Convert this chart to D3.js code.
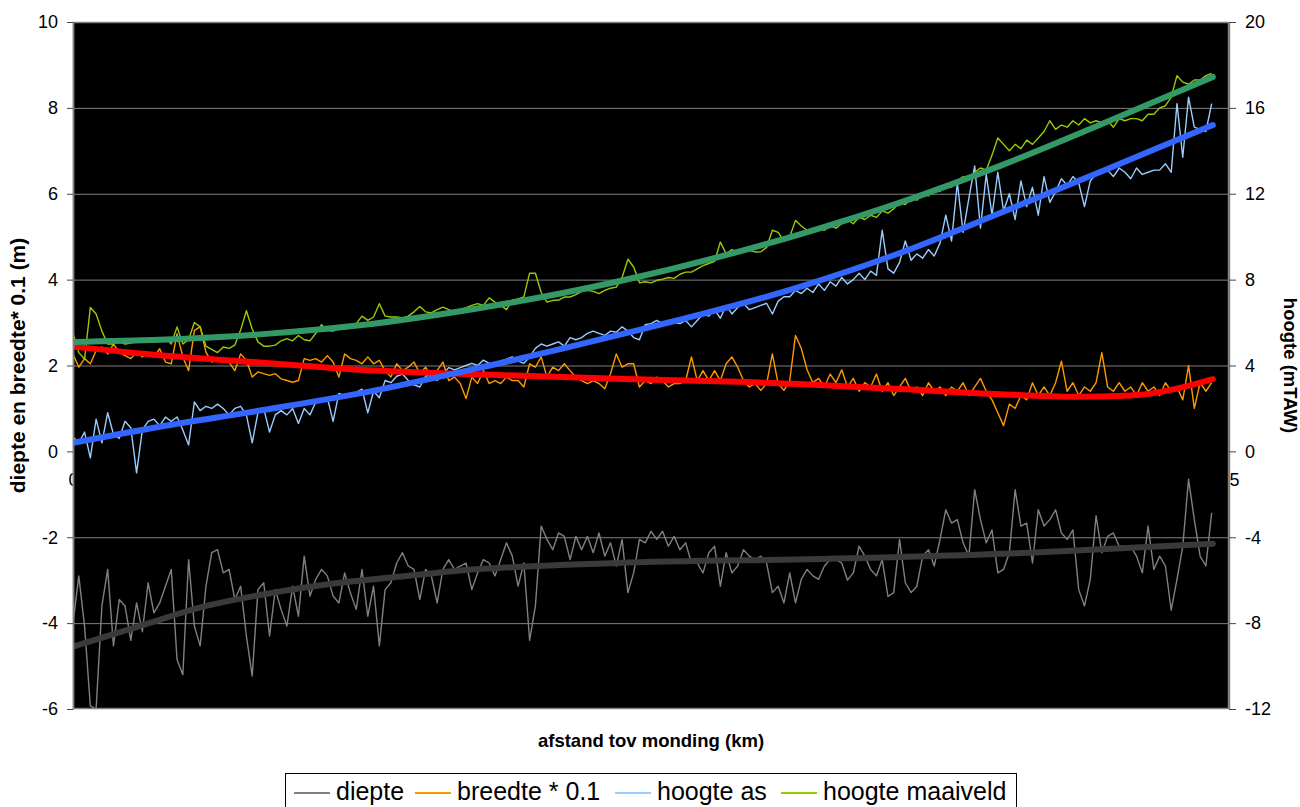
<!DOCTYPE html>
<html>
<head>
<meta charset="utf-8">
<script src="https://cdn.jsdelivr.net/npm/d3@7"></script>
<style>
  body { margin: 0; background: #fff; }
  svg { display: block; font-family: Arial, "Liberation Sans", sans-serif; }
</style>
</head>
<body>
<svg id="chart" width="1300" height="807"></svg>
<script>
// profiel langs de waterloop, één meetpunt per 0.125 km
const stepKm = 0.125;

const diepte = [
  -4.0, -2.9, -4.07, -5.93, -6.0, -3.6, -2.75, -4.53, -3.45, -3.6,
  -4.4, -3.53, -4.2, -3.06, -3.76, -3.53, -3.14, -2.75, -4.85, -5.2,
  -2.52, -4.07, -4.53, -3.14, -2.36, -2.29, -2.83, -2.75, -3.45, -3.14,
  -4.3, -5.23, -3.22, -3.06, -4.3, -3.22, -3.68, -4.07, -3.14, -3.84,
  -2.44, -3.37, -2.98, -2.75, -2.9, -3.37, -3.53, -2.83, -3.3, -3.68,
  -2.75, -3.84, -3.14, -4.53, -3.22, -3.06, -2.6, -2.36, -2.67, -2.75,
  -3.45, -2.75, -2.9, -3.53, -2.75, -2.52, -2.75, -2.67, -2.6, -3.22,
  -2.83, -2.52, -2.6, -2.9, -2.52, -2.13, -2.44, -3.14, -2.6, -4.4,
  -3.6, -1.74, -2.05, -2.29, -1.9, -1.98, -2.52, -1.98, -2.29, -1.98,
  -2.36, -1.9, -2.44, -2.13, -2.67, -2.05, -3.29, -2.83, -2.05, -2.13,
  -1.86, -2.05, -1.86, -2.21, -1.98, -2.29, -2.13, -2.6, -2.6, -2.83,
  -2.36, -2.21, -3.14, -2.36, -2.83, -2.67, -2.29, -2.44, -2.52, -2.44,
  -2.6, -3.29, -3.14, -3.53, -2.83, -3.53, -2.98, -2.75, -2.9, -2.98,
  -2.67, -2.52, -2.52, -2.6, -3.0, -2.83, -2.21, -2.44, -2.75, -2.9,
  -2.52, -3.38, -3.29, -2.05, -3.06, -3.29, -3.14, -2.44, -2.29, -2.67,
  -2.05, -1.36, -1.67, -1.59, -2.13, -2.44, -0.89, -1.59, -2.13, -1.83,
  -2.83, -2.75, -2.36, -0.89, -1.74, -1.67, -2.6, -1.36, -1.74, -1.59,
  -1.36, -1.9, -2.05, -1.83, -3.22, -3.6, -2.98, -1.5, -2.36, -1.98,
  -1.9, -2.21, -2.21, -2.21, -2.44, -2.83, -1.74, -2.75, -2.44, -2.67,
  -3.7, -2.98, -2.21, -0.65, -1.59, -2.44, -2.67, -1.43
];

const breedte = [
  2.27, 1.96, 2.16, 2.04, 2.35, 2.43, 2.27, 2.5, 2.31, 2.23,
  2.16, 2.31, 2.2, 2.31, 2.2, 2.39, 2.08, 2.04, 2.74, 2.2,
  1.88, 2.82, 2.9, 2.31, 2.08, 2.16, 2.08, 2.08, 1.88, 2.27,
  2.12, 1.73, 1.85, 1.81, 1.77, 1.81, 1.69, 1.65, 1.61, 1.65,
  2.16, 2.12, 2.16, 2.08, 2.23, 2.08, 1.73, 2.27, 2.16, 2.12,
  2.04, 2.2, 2.04, 2.12, 1.88, 1.73, 2.04, 1.88, 1.96, 2.08,
  1.81, 1.96, 1.73, 1.88, 2.08, 1.65, 1.73, 1.58, 1.23, 1.73,
  1.58, 1.88, 1.58, 1.65, 1.58, 1.73, 1.65, 1.65, 1.5, 2.04,
  1.96, 2.2, 1.73, 1.96, 1.88, 2.04, 1.88, 1.73, 1.65, 1.58,
  1.65, 1.58, 1.46, 1.81, 2.27, 1.96, 2.04, 2.04, 1.5, 1.65,
  1.58, 1.73, 1.65, 1.5, 1.58, 1.58, 1.65, 2.2, 1.65, 1.88,
  1.65, 1.88, 1.65, 2.04, 2.2, 1.96, 1.65, 1.5, 1.58, 1.42,
  1.58, 2.27, 1.58, 1.42, 1.65, 2.7, 2.4, 1.9, 1.6, 1.7,
  1.5, 1.8, 1.6, 1.9, 1.5, 1.7, 1.4, 1.6, 1.5, 1.8,
  1.4, 1.6, 1.3, 1.5, 1.7, 1.4, 1.5, 1.3, 1.6, 1.4,
  1.5, 1.3, 1.5, 1.4, 1.6, 1.3, 1.5, 1.7, 1.4, 1.2,
  0.9, 0.6, 1.1, 1.0, 1.3, 1.2, 1.6, 1.3, 1.5, 1.3,
  1.6, 2.1, 1.4, 1.6, 1.3, 1.5, 1.4, 1.6, 2.3, 1.5,
  1.4, 1.6, 1.4, 1.5, 1.3, 1.6, 1.4, 1.5, 1.3, 1.6,
  1.4, 1.5, 1.2, 2.0, 1.0, 1.6, 1.4, 1.6
];

const hoogteAs = [
  0.67, 0.4, 0.9, -0.3, 1.5, 0.4, 1.8, 0.8, 0.6, 1.4,
  1.1, -1.0, 1.0, 1.4, 1.5, 1.2, 1.6, 1.4, 1.6, 1.0,
  0.3, 2.3, 1.9, 2.1, 2.0, 2.2, 2.0, 1.7, 2.0, 2.1,
  1.7, 0.4, 1.8, 2.0, 0.9, 1.7, 1.9, 1.7, 2.0, 1.3,
  2.0, 1.7, 2.3, 2.4, 2.5, 1.4, 2.7, 2.6, 2.7, 2.75,
  2.9, 1.8, 2.8, 2.5, 3.3, 3.2, 3.5, 3.6, 3.3, 3.1,
  3.0, 3.5, 3.6, 3.3, 3.6, 3.9, 3.8, 3.9, 4.0, 4.1,
  4.0, 4.25, 4.1, 4.1, 4.2, 4.3, 4.4, 4.2, 4.1, 4.4,
  4.8, 5.0, 4.9, 5.0, 5.1, 4.9, 5.3, 5.2, 5.3, 5.5,
  5.6, 5.5, 5.4, 5.6, 5.55, 5.8, 5.6, 5.3, 5.2, 5.9,
  5.95, 6.1, 5.95, 6.1, 6.0, 5.95, 6.1, 5.8, 6.1, 6.4,
  6.3, 6.6, 6.2, 6.8, 6.4, 6.7, 6.9, 6.6, 6.7, 6.8,
  6.9, 6.4, 7.0, 7.2, 7.2, 7.5, 7.35, 7.6, 7.4, 7.8,
  7.5, 7.9, 7.7, 8.1, 7.8, 8.0, 8.3, 8.0, 8.4, 8.2,
  10.3, 8.5, 8.3, 8.8, 9.8, 8.9, 9.2, 9.0, 9.4, 9.1,
  9.7, 11.0, 9.8, 12.5, 10.2, 11.8, 13.3, 10.4, 12.9, 11.0,
  13.0, 11.2, 12.0, 10.8, 12.6, 11.4, 12.3, 11.0, 12.8, 11.6,
  12.1, 12.7, 12.4, 12.8, 12.5, 11.4, 12.6, 12.9, 13.0, 13.1,
  12.8, 13.2, 13.0, 12.7, 13.2, 12.9, 13.0, 13.1, 13.1, 13.4,
  13.0, 16.2, 13.7, 16.5, 15.1, 15.0, 14.9, 16.2
];

const hoogteMaaiveld = [
  5.5, 4.6, 4.3, 6.7, 6.4, 5.6, 5.0, 5.0, 5.1, 5.0,
  5.05, 5.1, 5.2, 5.25, 5.2, 5.3, 5.3, 5.0, 5.8, 5.0,
  5.2, 6.0, 5.8, 4.9, 4.75, 4.6, 4.86, 4.8, 4.95, 5.65,
  6.55, 5.7, 5.1, 4.9, 4.9, 4.95, 5.15, 5.25, 5.15, 5.4,
  5.2, 5.15, 5.5, 5.9, 5.64, 5.6, 5.72, 5.7, 5.8, 5.95,
  6.3, 6.1, 6.26, 6.88, 6.3, 6.26, 6.26, 6.22, 6.3, 6.5,
  6.75, 6.5, 6.45, 6.6, 6.72, 6.6, 6.5, 6.6, 6.7, 6.8,
  6.88, 6.8, 7.15, 6.95, 6.8, 6.6, 7.05, 7.1, 7.2, 8.3,
  8.3, 7.4, 6.95, 7.03, 7.05, 7.19, 7.19, 7.3, 7.45, 7.5,
  7.45, 7.35, 7.5, 7.6, 7.65, 8.1, 8.95, 8.59, 7.85, 7.9,
  7.85, 7.97, 8.02, 8.1, 8.06, 8.25, 8.35, 8.35, 8.5, 8.65,
  8.75, 8.85, 9.75, 9.2, 9.4, 9.29, 9.29, 9.36, 9.29, 9.3,
  9.5, 10.3, 10.2, 9.8, 10.0, 10.76, 10.5, 10.3, 10.2, 10.4,
  10.3, 10.5, 10.4, 10.6, 10.8, 10.6, 10.9, 10.8, 11.0, 10.9,
  11.2, 11.1, 11.3, 11.6, 11.5, 11.8, 11.7, 12.0, 11.9, 12.2,
  12.1, 12.4, 12.3, 12.6, 12.8, 12.7, 13.0, 13.2, 13.1, 13.8,
  14.6, 14.3, 14.0, 14.3, 14.1, 14.5, 14.3, 14.6, 14.9, 15.4,
  15.0, 15.2, 15.1, 15.4, 15.2, 15.5, 15.3, 15.4, 15.3, 15.4,
  15.1, 15.5, 15.4, 15.5, 15.5, 15.4, 15.7, 15.7, 16.0, 16.1,
  16.5, 17.5, 17.2, 17.1, 17.3, 17.3, 17.5, 17.6
];

const trendDiepteKm = [0, 1.44, 2.88, 4.33, 5.77, 7.21, 8.22, 11.75, 16.37, 20.7, 24.65];
const trendDiepte = [-4.55, -4.07, -3.6, -3.29, -3.06, -2.9, -2.79, -2.6, -2.5, -2.36, -2.15];
const trendBreedteKm = [0, 1.88, 4.04, 6.2, 8.87, 11.76, 15.7, 17.9, 20.05, 21.67, 22.86, 23.83, 24.65];
const trendBreedte = [2.44, 2.24, 2.07, 1.9, 1.79, 1.69, 1.57, 1.45, 1.33, 1.27, 1.3, 1.45, 1.68];
const trendHoogteKm = [0, 1.88, 4.04, 6.2, 8.87, 11.76, 15.7, 17.9, 20.05, 22.2, 24.65];
const trendAs = [0.4, 1.15, 1.9, 2.7, 3.93, 5.4, 7.65, 9.25, 11.1, 13.0, 15.2];
const trendMaaiveld = [5.1, 5.2, 5.45, 5.87, 6.7, 7.9, 10.1, 11.6, 13.3, 15.2, 17.44];

const leftTicks = [-6, -4, -2, 0, 2, 4, 6, 8, 10];
const rightTicks = [-12, -8, -4, 0, 4, 8, 12, 16, 20];
const xTicks = [0, 5, 10, 15, 20, 25];
const legendItems = [
  { label: "diepte", color: "#808080" },
  { label: "breedte * 0.1", color: "#ff9900" },
  { label: "hoogte as", color: "#99ccff" },
  { label: "hoogte maaiveld", color: "#99cc00" }
];

const plot = { left: 73, right: 1229, top: 22, bottom: 709 };
const svg = d3.select("#chart");
const fontStack = "Arial, 'Liberation Sans', sans-serif";
const plainNumber = d => String(d);   // gewoon koppelteken als minteken

const x = d3.scaleLinear().domain([0, 25]).range([plot.left, plot.right]);
const yLeft = d3.scaleLinear().domain([-6, 10]).range([plot.bottom, plot.top]);
const yRight = d3.scaleLinear().domain([-12, 20]).range([plot.bottom, plot.top]);

// x-labels sit at the zero line and end up behind the plot area
svg.append("g")
  .attr("transform", `translate(0,${yLeft(0)})`)
  .call(d3.axisBottom(x).tickValues(xTicks).tickFormat(plainNumber).tickSize(0).tickPadding(22))
  .call(g => g.select(".domain").remove())
  .call(g => g.selectAll("text").attr("font-size", 18).attr("font-family", fontStack).attr("fill", "#000"));

svg.append("rect")
  .attr("x", plot.left).attr("y", plot.top)
  .attr("width", plot.right - plot.left).attr("height", plot.bottom - plot.top)
  .attr("fill", "#000");

svg.append("g")
  .selectAll("line")
  .data(leftTicks.filter(v => v !== 0 && v !== -6 && v !== 10))
  .join("line")
  .attr("x1", plot.left).attr("x2", plot.right)
  .attr("y1", d => yLeft(d) + 0.5).attr("y2", d => yLeft(d) + 0.5)
  .attr("stroke", "#808080").attr("stroke-width", 1);

svg.append("defs").append("clipPath").attr("id", "plot-clip")
  .append("rect")
  .attr("x", plot.left).attr("y", plot.top)
  .attr("width", plot.right - plot.left).attr("height", plot.bottom - plot.top);

const lines = svg.append("g").attr("clip-path", "url(#plot-clip)");

function drawSeries(values, scale, color, width) {
  const line = d3.line()
    .x((d, i) => x(i * stepKm))
    .y(d => scale(d));
  lines.append("path")
    .attr("d", line(values))
    .attr("fill", "none")
    .attr("stroke", color)
    .attr("stroke-width", width)
    .attr("stroke-linejoin", "round");
}

function drawTrend(kms, values, scale, color) {
  const line = d3.line()
    .x((d, i) => x(kms[i]))
    .y(d => scale(d))
    .curve(d3.curveMonotoneX);
  lines.append("path")
    .attr("d", line(values))
    .attr("fill", "none")
    .attr("stroke", color)
    .attr("stroke-width", 6)
    .attr("stroke-linecap", "round");
}

drawSeries(diepte, yLeft, "#808080", 1.4);
drawSeries(breedte, yLeft, "#ff9900", 1.4);
drawSeries(hoogteAs, yRight, "#99ccff", 1.4);
drawSeries(hoogteMaaiveld, yRight, "#99cc00", 1.4);

drawTrend(trendDiepteKm, trendDiepte, yLeft, "#3a3a3a");
drawTrend(trendBreedteKm, trendBreedte, yLeft, "#ff0000");
drawTrend(trendHoogteKm, trendAs, yRight, "#3366ff");
drawTrend(trendHoogteKm, trendMaaiveld, yRight, "#339966");

// frame
svg.append("rect")
  .attr("x", plot.left + 0.5).attr("y", plot.top + 0.5)
  .attr("width", plot.right - plot.left - 1).attr("height", plot.bottom - plot.top - 1)
  .attr("fill", "none").attr("stroke", "#808080").attr("stroke-width", 1.5);

function styleAxis(g) {
  g.select(".domain").attr("stroke", "#808080").attr("stroke-width", 1.5);
  g.selectAll(".tick line").attr("stroke", "#444");
  g.selectAll("text").attr("font-size", 18).attr("font-family", fontStack).attr("fill", "#000");
}

svg.append("g")
  .attr("transform", `translate(${plot.left},0)`)
  .call(d3.axisLeft(yLeft).tickValues(leftTicks).tickFormat(plainNumber).tickSize(6).tickPadding(9).tickSizeOuter(0))
  .call(styleAxis);

svg.append("g")
  .attr("transform", `translate(${plot.right},0)`)
  .call(d3.axisRight(yRight).tickValues(rightTicks).tickFormat(plainNumber).tickSize(7).tickPadding(9).tickSizeOuter(0))
  .call(styleAxis);

svg.append("text")
  .attr("transform", `translate(25,${(plot.top + plot.bottom) / 2}) rotate(-90)`)
  .attr("text-anchor", "middle")
  .attr("font-family", fontStack).attr("font-weight", "bold").attr("font-size", 21)
  .text("diepte en breedte* 0.1 (m)");

svg.append("text")
  .attr("transform", `translate(1284,${(plot.top + plot.bottom) / 2}) rotate(90)`)
  .attr("text-anchor", "middle")
  .attr("font-family", fontStack).attr("font-weight", "bold").attr("font-size", 18.5)
  .text("hoogte (mTAW)");

svg.append("text")
  .attr("x", (plot.left + plot.right) / 2).attr("y", 747)
  .attr("text-anchor", "middle")
  .attr("font-family", fontStack).attr("font-weight", "bold").attr("font-size", 18.5)
  .text("afstand tov monding (km)");

// legend
const legend = svg.append("g");
legend.append("rect")
  .attr("x", 285.5).attr("y", 773.5).attr("width", 731).attr("height", 50)
  .attr("fill", "#fff").attr("stroke", "#000").attr("stroke-width", 1);

const legendX = [294, 415, 615, 781];
legendItems.forEach((item, i) => {
  const g = legend.append("g").attr("transform", `translate(${legendX[i]},0)`);
  g.append("line")
    .attr("x1", 0).attr("x2", 36).attr("y1", 793).attr("y2", 793)
    .attr("stroke", item.color).attr("stroke-width", 2);
  g.append("text")
    .attr("x", 42).attr("y", 800)
    .attr("font-family", fontStack).attr("font-size", 25)
    .text(item.label);
});
</script>
</body>
</html>
